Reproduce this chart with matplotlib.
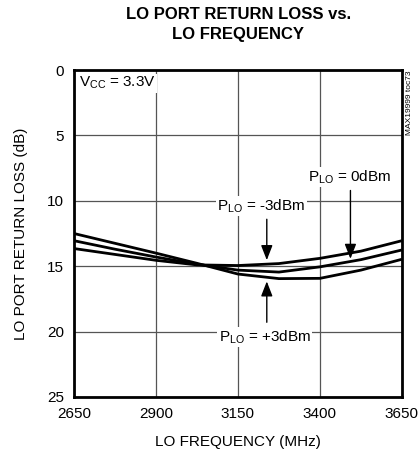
import matplotlib.pyplot as plt
import numpy as np

plt.rcParams['font.family'] = ['Liberation Sans', 'DejaVu Sans']

# LO frequency (MHz) and return loss (dB) for each LO drive level
freq = [2650, 2775, 2900, 3025, 3150, 3275, 3400, 3525, 3650]
rl_p3 = [12.5, 13.25, 14.0, 14.78, 15.6, 15.95, 15.93, 15.3, 14.47]
rl_0 = [13.05, 13.7, 14.3, 14.85, 15.3, 15.45, 15.05, 14.5, 13.76]
rl_m3 = [13.65, 14.1, 14.55, 14.9, 14.95, 14.8, 14.4, 13.85, 13.05]

xticks = [2650, 2900, 3150, 3400, 3650]
yticks = [0, 5, 10, 15, 20, 25]

fig = plt.figure(figsize=(4.2, 4.54), dpi=100)
ax = fig.add_axes([0.176, 0.1256, 0.781, 0.7202])

for y in (rl_p3, rl_0, rl_m3):
    ax.plot(freq, y, color='black', lw=2.0, solid_capstyle='butt', zorder=3)

ax.set_xlim(2650, 3650)
ax.set_ylim(25, 0)
ax.set_xticks(xticks)
ax.set_yticks(yticks)
ax.tick_params(length=0, labelsize=11, pad=7)
ax.grid(True, color='#555555', lw=0.9)
for s in ax.spines.values():
    s.set_linewidth(2)

ax.set_xlabel('LO FREQUENCY (MHz)', fontsize=11, labelpad=10)
ax.set_ylabel('LO PORT RETURN LOSS (dB)', fontsize=11, labelpad=14)
fig.suptitle('LO PORT RETURN LOSS vs.\nLO FREQUENCY', x=0.567, y=0.985,
             fontsize=12, fontweight='bold', linespacing=1.45)

box = dict(facecolor='white', edgecolor='none', pad=1)
ax.text(2665, 1.0, '$\\mathregular{V_{CC}}$ = 3.3V', fontsize=11, va='center',
        ha='left', bbox=box, zorder=4)

# annotations with arrows
arr = dict(arrowstyle='-|>,head_width=0.35,head_length=0.9', color='black', lw=1)
ax.text(3490, 8.2, '$\\mathregular{P_{LO}}$ = 0dBm', fontsize=11, ha='center',
        va='center', bbox=box, zorder=4)
ax.annotate('', xy=(3493, 14.65), xytext=(3493, 9.0), arrowprops=arr, zorder=4)

ax.text(3222, 10.4, '$\\mathregular{P_{LO}}$ = -3dBm', fontsize=11, ha='center',
        va='center', bbox=box, zorder=4)
ax.annotate('', xy=(3238, 14.75), xytext=(3238, 11.2), arrowprops=arr, zorder=4)

ax.text(3232, 20.4, '$\\mathregular{P_{LO}}$ = +3dBm', fontsize=11, ha='center',
        va='center', bbox=box, zorder=4)
ax.annotate('', xy=(3238, 15.95), xytext=(3238, 19.5), arrowprops=arr, zorder=4)

fig.text(0.975, 0.845, 'MAX19999 toc73', rotation=90, fontsize=6, ha='center', va='top')

fig.savefig('out.png', dpi=100)
